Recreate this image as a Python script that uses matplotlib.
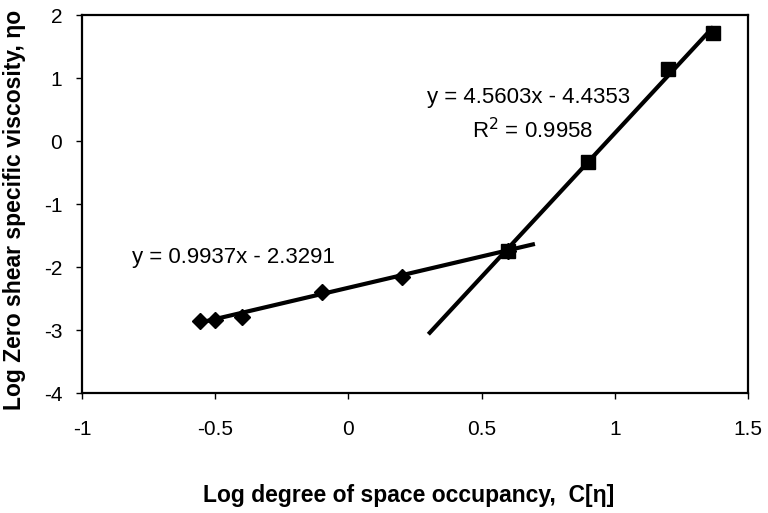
import matplotlib
matplotlib.use("Agg")
import numpy as np
import matplotlib.pyplot as plt

plt.rcParams["font.family"] = ["Liberation Sans", "DejaVu Sans"]
plt.rcParams["axes.unicode_minus"] = False

# ── data ─────────────────────────────────────────────────────────────────────
dil_x = [-0.557, -0.50, -0.40, -0.10, 0.20, 0.60]
dil_y = [-2.86, -2.84, -2.80, -2.40, -2.16, -1.75]

conc_x = [0.60, 0.90, 1.20, 1.37]
conc_y = [-1.75, -0.33, 1.15, 1.72]

# Excel-style linear trend lines (slope, intercept, drawn range)
dil_fit = (0.9937, -2.3291)
dil_range = (-0.557, 0.70)
conc_fit = (4.5603, -4.4353)
conc_range = (0.30, 1.37)

x_ticks = [-1, -0.5, 0, 0.5, 1, 1.5]
x_tick_labels = ["-1", "-0.5", "0", "0.5", "1", "1.5"]
y_ticks = [-4, -3, -2, -1, 0, 1, 2]
y_tick_labels = ["-4", "-3", "-2", "-1", "0", "1", "2"]

fig = plt.figure(figsize=(7.68, 5.13), dpi=100)
ax = fig.add_axes([0.1068, 0.2339, 0.8672, 0.7368])

# trend lines
for (m, b), (x0, x1) in [(dil_fit, dil_range), (conc_fit, conc_range)]:
    xs = np.array([x0, x1])
    ax.plot(xs, m * xs + b, color="black", lw=3, solid_capstyle="butt", zorder=2)

ax.plot(dil_x, dil_y, ls="none", marker="D", ms=8, color="black", zorder=3)
ax.plot(conc_x, conc_y, ls="none", marker="s", ms=9.5, color="black", zorder=4)

# equation labels
ax.text(-0.812, -1.937, "y = 0.9937x - 2.3291", fontsize=16, ha="left", va="baseline")
ax.text(0.295, 0.603, "y = 4.5603x - 4.4353", fontsize=16, ha="left", va="baseline")
ax.text(0.464, 0.048, "R$^{2}$ = 0.9958", fontsize=16, ha="left", va="baseline")

ax.set_xlim(-1, 1.5)
ax.set_ylim(-4, 2)
ax.set_xticks(x_ticks)
ax.set_xticklabels(x_tick_labels)
ax.set_yticks(y_ticks)
ax.set_yticklabels(y_tick_labels)
ax.tick_params(axis="both", direction="out", length=4.3, width=1, labelsize=15)
ax.tick_params(axis="x", pad=15)
ax.tick_params(axis="y", pad=10)
for sp in ax.spines.values():
    sp.set_linewidth(1.6)

ax.set_xlabel("Log degree of space occupancy,  C[\u03b7]", fontsize=16.5,
              fontweight="bold")
ax.set_ylabel("Log Zero shear specific viscosity, \u03b7o", fontsize=16.5,
              fontweight="bold")
ax.xaxis.set_label_coords(0.491, -0.241)
ax.yaxis.set_label_coords(-0.084, 0.484)

fig.savefig("out.png", dpi=100)
